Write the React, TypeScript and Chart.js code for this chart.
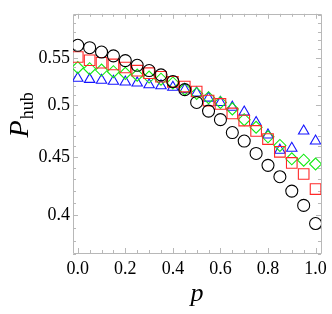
import React, { useEffect, useRef } from "react";
import { Chart, registerables } from "chart.js";

Chart.register(...registerables);

const pValues = [0, 0.05, 0.1, 0.15, 0.2, 0.25, 0.3, 0.35, 0.4, 0.45, 0.5, 0.55, 0.6, 0.65, 0.7, 0.75, 0.8, 0.85, 0.9, 0.95, 1.0];

const blackCircles = [0.5643, 0.5616, 0.5567, 0.5524, 0.5471, 0.5419, 0.5362, 0.5315, 0.5244, 0.5159, 0.5026, 0.4939, 0.4854, 0.4729, 0.4648, 0.4533, 0.4425, 0.4324, 0.42, 0.408, 0.3933];
const redSquares = [0.5511, 0.5475, 0.5447, 0.5429, 0.5395, 0.536, 0.5333, 0.5295, 0.5241, 0.519, 0.5139, 0.5045, 0.5011, 0.4916, 0.4845, 0.4744, 0.4667, 0.4548, 0.4447, 0.4348, 0.4217];
const greenDiamonds = [0.5395, 0.5382, 0.5367, 0.5349, 0.5331, 0.5312, 0.5292, 0.5269, 0.5229, 0.5163, 0.5119, 0.5075, 0.5026, 0.4961, 0.4854, 0.478, 0.4688, 0.4607, 0.4484, 0.4471, 0.4437];
const blueTriangles = [0.5279, 0.5267, 0.5257, 0.5247, 0.5239, 0.5229, 0.5209, 0.5199, 0.5183, 0.5159, 0.5124, 0.507, 0.5026, 0.4978, 0.493, 0.4826, 0.4706, 0.4563, 0.4581, 0.4744, 0.4648];

const xMajorTicks = [0, 0.2, 0.4, 0.6, 0.8, 1.0];
const xTickLabels = ["0.0", "0.2", "0.4", "0.6", "0.8", "1.0"];
const xMinorTicks = [0.05, 0.1, 0.15, 0.25, 0.3, 0.35, 0.45, 0.5, 0.55, 0.65, 0.7, 0.75, 0.85, 0.9, 0.95];
const yMajorTicks = [0.4, 0.45, 0.5, 0.55];
const yTickLabels = ["0.4", "0.45", "0.5", "0.55"];
const yMinorTicks = [0.37, 0.38, 0.39, 0.41, 0.42, 0.43, 0.44, 0.46, 0.47, 0.48, 0.49, 0.51, 0.52, 0.53, 0.54, 0.56, 0.57, 0.58, 0.59, 0.6];

const xTitle = "p";
const yTitleMain = "P";
const yTitleSub = "hub";

const SERIF = "'Liberation Serif', 'DejaVu Serif', serif";
const FRAME = "#b8b8b8";

const framePlugin = {
  id: "frameTicks",
  beforeDatasetsDraw(chart: any) {
    const { ctx, chartArea: a, scales } = chart;
    const xs = scales.x;
    const ys = scales.y;
    ctx.save();
    ctx.strokeStyle = FRAME;
    ctx.lineWidth = 1;
    ctx.beginPath();
    ctx.rect(Math.round(a.left) + 0.5, Math.round(a.top) + 0.5, Math.round(a.right - a.left), Math.round(a.bottom - a.top));
    ctx.stroke();
    const drawX = (vals: number[], len: number) => {
      vals.forEach((v) => {
        const px = Math.round(xs.getPixelForValue(v)) + 0.5;
        ctx.beginPath();
        ctx.moveTo(px, a.bottom);
        ctx.lineTo(px, a.bottom - len);
        ctx.moveTo(px, a.top);
        ctx.lineTo(px, a.top + len);
        ctx.stroke();
      });
    };
    const drawY = (vals: number[], len: number) => {
      vals.forEach((v) => {
        const py = Math.round(ys.getPixelForValue(v)) + 0.5;
        ctx.beginPath();
        ctx.moveTo(a.left, py);
        ctx.lineTo(a.left + len, py);
        ctx.moveTo(a.right, py);
        ctx.lineTo(a.right - len, py);
        ctx.stroke();
      });
    };
    drawX(xMajorTicks, 5);
    drawX(xMinorTicks, 3);
    drawY(yMajorTicks, 5);
    drawY(yMinorTicks, 3);
    ctx.restore();
  },
  afterDraw(chart: any) {
    const { ctx, chartArea: a } = chart;
    ctx.save();
    ctx.fillStyle = "#000";
    // x title
    ctx.font = `italic 26px ${SERIF}`;
    ctx.textAlign = "center";
    ctx.textBaseline = "alphabetic";
    ctx.fillText(xTitle, (a.left + a.right) / 2, a.bottom + 48);
    // y title with subscript
    ctx.translate(28, (a.top + a.bottom) / 2 - 18);
    ctx.rotate(-Math.PI / 2);
    ctx.font = `italic 28px ${SERIF}`;
    const wMain = ctx.measureText(yTitleMain).width;
    ctx.font = `18px ${SERIF}`;
    const wSub = ctx.measureText(yTitleSub).width;
    const start = -(wMain + wSub) / 2;
    ctx.textAlign = "left";
    ctx.font = `italic 28px ${SERIF}`;
    ctx.fillText(yTitleMain, start, 0);
    ctx.font = `18px ${SERIF}`;
    ctx.fillText(yTitleSub, start + wMain + 1, 5);
    ctx.restore();
  },
};

export default function App() {
  const ref = useRef<HTMLCanvasElement | null>(null);
  useEffect(() => {
    if (!ref.current) return;
    const mk = (vals: number[]) => pValues.map((p, i) => ({ x: p, y: vals[i] }));
    const chart = new Chart(ref.current, {
      type: "scatter",
      data: {
        datasets: [
          { data: mk(blackCircles), pointStyle: "circle", pointRadius: 6, borderColor: "#000000", backgroundColor: "rgba(0,0,0,0)", borderWidth: 1.1 },
          { data: mk(redSquares), pointStyle: "rect", pointRadius: 7.5, borderColor: "rgb(255,40,40)", backgroundColor: "rgba(0,0,0,0)", borderWidth: 1.1 },
          { data: mk(greenDiamonds), pointStyle: "rectRot", pointRadius: 6, borderColor: "rgb(20,235,20)", backgroundColor: "rgba(0,0,0,0)", borderWidth: 1.1 },
          { data: mk(blueTriangles), pointStyle: "triangle", pointRadius: 6, borderColor: "rgb(20,20,255)", backgroundColor: "rgba(0,0,0,0)", borderWidth: 1.1 },
        ],
      },
      options: {
        animation: false,
        responsive: false,
        events: [],
        layout: { padding: { top: 2, right: 7, left: 0, bottom: 0 } },
        plugins: { legend: { display: false }, tooltip: { enabled: false } },
        scales: {
          x: {
            type: "linear",
            min: -0.02,
            max: 1.0228,
            afterBuildTicks: (s: any) => {
              s.ticks = xMajorTicks.map((v) => ({ value: v }));
            },
            afterFit: (s: any) => {
              s.height = 61;
            },
            ticks: {
              callback: (v: any) => xTickLabels[xMajorTicks.indexOf(v)],
              font: { family: SERIF, size: 18 },
              color: "#000",
              padding: 5,
              maxRotation: 0,
              autoSkip: false,
            },
            grid: { display: false, drawTicks: false },
            border: { display: false },
          },
          y: {
            type: "logarithmic",
            min: 0.3705,
            max: 0.6015,
            afterBuildTicks: (s: any) => {
              s.ticks = yMajorTicks.map((v) => ({ value: v }));
            },
            afterFit: (s: any) => {
              s.width = 73;
            },
            ticks: {
              callback: (v: any) => yTickLabels[yMajorTicks.indexOf(v)],
              font: { family: SERIF, size: 18 },
              color: "#000",
              padding: 3,
              autoSkip: false,
            },
            grid: { display: false, drawTicks: false },
            border: { display: false },
          },
        },
      },
      plugins: [framePlugin],
    } as any);
    return () => chart.destroy();
  }, []);
  return (
    <div style={{ position: "fixed", left: 0, top: 0, width: 332, height: 314, background: "#fff" }}>
      <canvas ref={ref} width={332} height={314} style={{ display: "block", width: 332, height: 314 }} />
    </div>
  );
}
